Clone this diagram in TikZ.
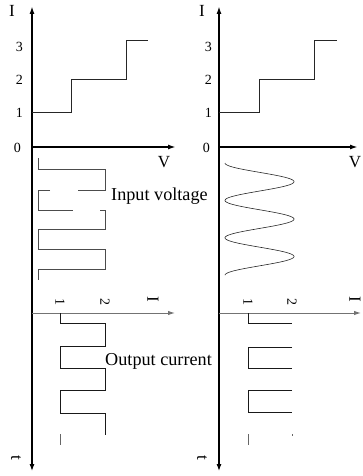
\documentclass[tikz,border=0pt]{standalone}
\usepackage{fontspec}
\setmainfont{Liberation Serif}
\usetikzlibrary{arrows.meta}
\tikzset{
  axisthick/.style={line width=1.8pt, -{Latex[length=8pt,width=5pt]}},
  axisthin/.style={line width=1.1pt, -{Latex[length=7pt,width=5pt]}},
  axisgray/.style={line width=1pt, draw=black!55, -{Latex[length=7pt,width=4.5pt]}},
  stair/.style={line width=1pt, draw=black!85},
  inwave/.style={line width=1pt, draw=black!70},
  outwave/.style={line width=1pt, draw=black!90},
  sinewave/.style={line width=0.6pt, draw=black!85},
  num/.style={font=\fontsize{14}{16}\selectfont, inner sep=0pt},
  axlabel/.style={font=\fontsize{17}{19}\selectfont, inner sep=0pt},
  caption/.style={font=\fontsize{18.2}{20}\selectfont, inner sep=0pt, anchor=base west},
  rnum/.style={font=\fontsize{14}{16}\selectfont, inner sep=0pt, rotate=-90},
  rlabel/.style={font=\fontsize{17}{19}\selectfont, inner sep=0pt, rotate=-90}
}
\begin{document}
\begin{tikzpicture}[x=1pt,y=-1pt]
\useasboundingbox (0,0) rectangle (362,476);
% ---------- axes coordinates ----------
\coordinate (LT) at (32,6);
\coordinate (LO) at (32,147);
\coordinate (LB) at (32,471);
\coordinate (LV) at (176,147);
\coordinate (LIo) at (32,313);
\coordinate (LI) at (175,313);
\coordinate (RT) at (219,6);
\coordinate (RO) at (219,147);
\coordinate (RB) at (219,471);
\coordinate (RV) at (358,147);
\coordinate (RIo) at (219,313);
\coordinate (RI) at (361,313);
% ---------- axes ----------
\draw[axisthick] (LO) -- (LT);
\draw[axisthick] (LO) -- (LV);
\draw[axisthin] (LO) -- (LB);
\draw[axisgray] (LIo) -- (LI);
\draw[axisthick] (RO) -- (RT);
\draw[axisthick] (RO) -- (RV);
\draw[axisthin] (RO) -- (RB);
\draw[axisgray] (RIo) -- (RI);
% ---------- labels upper ----------
\node[axlabel] (lI) at (12,11) {I};
\node[num, anchor=east] (l3) at (23,47) {3};
\node[num, anchor=east] (l2) at (23,80) {2};
\node[num, anchor=east] (l1) at (23,113) {1};
\node[num, anchor=east] (l0) at (21,148) {0};
\node[axlabel] (lVl) at (164,162) {V};
\node[axlabel] (rI) at (202,11) {I};
\node[num, anchor=east] (r3) at (212,47) {3};
\node[num, anchor=east] (r2) at (212,80) {2};
\node[num, anchor=east] (r1) at (212,113) {1};
\node[num, anchor=east] (r0) at (210,148) {0};
\node[axlabel] (rVl) at (355,162) {V};
% ---------- staircases ----------
\draw[stair] (32,113) -- (71,113) -- (71,80) -- (126,80) -- (126,41) -- (148,41);
\draw[stair] (219,113) -- (259,113) -- (259,80) -- (314,80) -- (314,41) -- (337,41);
% ---------- input voltage (square) ----------
\draw[inwave] (38,158) -- (38,169) -- (105,169) -- (105,190) -- (78,190);
\draw[inwave] (50,190) -- (38,190) -- (38,210) -- (73,210);
\draw[inwave] (100,210) -- (105,210) -- (105,229) -- (38,229) -- (38,249) -- (105,249) -- (105,269) -- (38,269) -- (38,280);
% ---------- input voltage (sine) ----------
\draw[sinewave] plot[domain=0:6, samples=240, smooth] ({259.5-34.5*cos(180*\x)}, {163+18.7*\x});
\node[caption] (inlab) at (111,200) {Input voltage};
% ---------- lower labels ----------
\node[rnum] (b1l) at (60,302) {1};
\node[rnum] (b2l) at (105,302) {2};
\node[rlabel] (bIl) at (153,299) {I};
\node[rnum] (b1r) at (248,302) {1};
\node[rnum] (b2r) at (292,302) {2};
\node[rlabel] (bIr) at (355,299) {I};
\node[rlabel] (tl) at (16,458) {t};
\node[rlabel] (tr) at (202,458) {t};
% ---------- output current ----------
\draw[outwave] (60,313) -- (60,323) -- (105,323) -- (105,346) -- (60,346) -- (60,368) -- (105,368) -- (105,390) -- (60,390) -- (60,413) -- (105,413) -- (105,435);
\draw[outwave, draw=black!60] (60,434) -- (60,445);
\draw[outwave] (248,313) -- (248,323) -- (292,323);
\draw[outwave] (292,347) -- (248,347) -- (248,368) -- (292,368);
\draw[outwave] (292,390) -- (248,390) -- (248,412) -- (292,412);
\draw[outwave, draw=black!60] (248,434) -- (248,445);
\draw[outwave, draw=black!60] (292,434) -- (292,436);
\node[caption] (outlab) at (105,365) {Output current};
\end{tikzpicture}
\end{document}
